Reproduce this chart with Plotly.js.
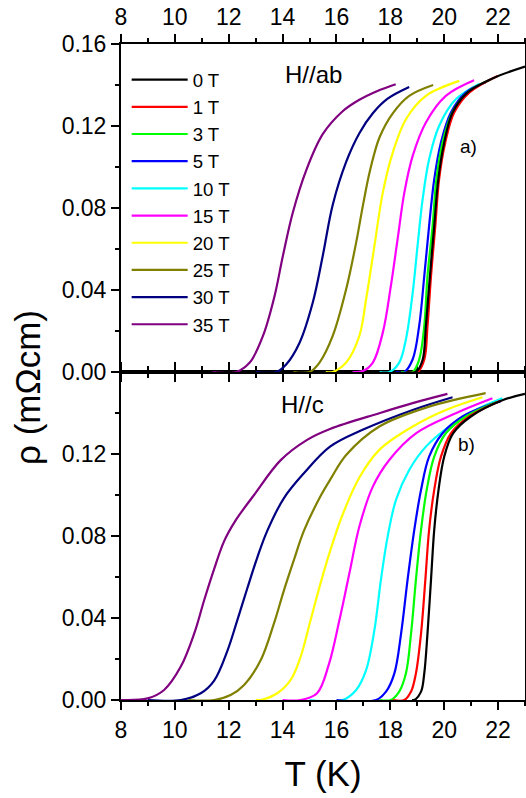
<!DOCTYPE html>
<html><head><meta charset="utf-8">
<script src="https://cdn.plot.ly/plotly-3.0.1.min.js"></script>
<style>html,body{margin:0;padding:0;background:#fff}#chart{width:526px;height:798px}</style>
</head><body><div id="chart"></div>
<script>
const fieldLabels = ['0 T','1 T','3 T','5 T','10 T','15 T','20 T','25 T','30 T','35 T'];
const lineColors = ['#000000','#ff0000','#00ff00','#0000ff','#00ffff','#ff00ff','#ffff00','#808000','#000080','#800080'];

// ---- H // ab (panel a) ----
const T_ab_0  = [18.6, 18.95, 19.2, 19.32, 19.47, 19.63, 19.78, 20.0, 20.31, 20.86, 21.79, 23.0];
const R_ab_0  = [0, 0, 0.006, 0.0224, 0.0468, 0.0713, 0.094, 0.112, 0.1266, 0.1363, 0.1432, 0.149];
const T_ab_1  = [18.6, 19.01, 19.26, 19.38, 19.51, 19.67, 19.81, 20.04, 20.37, 20.93, 21.98];
const R_ab_1  = [0, 0, 0.006, 0.0224, 0.0468, 0.0713, 0.094, 0.112, 0.1266, 0.1363, 0.1444];
const T_ab_3  = [18.4, 18.83, 19.07, 19.26, 19.38, 19.57, 19.71, 19.94, 20.3, 20.86, 21.67];
const R_ab_3  = [0, 0, 0.006, 0.0224, 0.0468, 0.0713, 0.094, 0.112, 0.1266, 0.1363, 0.1423];
const T_ab_5  = [18.2, 18.52, 18.83, 19.07, 19.26, 19.44, 19.63, 19.88, 20.25, 20.8, 21.54];
const R_ab_5  = [0, 0, 0.0062, 0.0224, 0.0468, 0.0713, 0.094, 0.112, 0.1266, 0.1363, 0.1413];
const T_ab_10 = [17.6, 17.96, 18.33, 18.58, 18.83, 19.01, 19.2, 19.44, 19.81, 20.43, 21.3];
const R_ab_10 = [0, 0, 0.0046, 0.016, 0.0387, 0.0615, 0.0843, 0.1038, 0.12, 0.133, 0.1405];
const T_ab_15 = [16.6, 16.98, 17.35, 17.72, 18.02, 18.27, 18.52, 18.83, 19.32, 20.06, 21.11];
const R_ab_15 = [0, 0.0005, 0.0046, 0.0192, 0.042, 0.0648, 0.0875, 0.1054, 0.1217, 0.1347, 0.1423];
const T_ab_20 = [15.6, 15.86, 16.36, 16.85, 17.10, 17.41, 17.72, 18.09, 18.58, 19.32, 20.56];
const R_ab_20 = [0, 0, 0.0046, 0.0176, 0.0355, 0.0615, 0.0875, 0.107, 0.1233, 0.1347, 0.142];
const T_ab_25 = [14.4, 15.0, 15.37, 15.86, 16.36, 16.73, 17.0, 17.25, 17.6, 18.09, 18.70, 19.59];
const R_ab_25 = [0, 0, 0.0046, 0.0176, 0.0404, 0.0631, 0.0825, 0.0985, 0.1145, 0.1262, 0.1347, 0.140];
const T_ab_30 = [13.0, 13.77, 14.14, 14.63, 15.12, 15.49, 15.86, 16.36, 16.85, 17.35, 17.9, 18.70];
const R_ab_30 = [0, 0, 0.0038, 0.0143, 0.0339, 0.0566, 0.0815, 0.1025, 0.1165, 0.1262, 0.1333, 0.139];
const T_ab_35 = [11.4, 12.28, 12.78, 13.27, 13.70, 14.01, 14.38, 14.88, 15.49, 16.23, 16.85, 17.5, 18.2];
const R_ab_35 = [0, 0, 0.0046, 0.0176, 0.037, 0.0566, 0.0778, 0.0985, 0.116, 0.1272, 0.1328, 0.1370, 0.1404];

// ---- H // c (panel b) ----
const T_c_0  = [18.8, 18.89, 19.14, 19.26, 19.38, 19.51, 19.63, 19.79, 20.0, 20.33, 20.99, 22.16, 23.0];
const R_c_0  = [0, 0, 0.0041, 0.013, 0.0325, 0.0586, 0.083, 0.1025, 0.1187, 0.1301, 0.1383, 0.1462, 0.1493];
const T_c_1  = [18.1, 18.52, 18.77, 18.95, 19.14, 19.3, 19.44, 19.63, 19.88, 20.25, 20.93, 22.1];
const R_c_1  = [0, 0, 0.0041, 0.013, 0.0325, 0.0586, 0.083, 0.1025, 0.1187, 0.1301, 0.1383, 0.146];
const T_c_3  = [17.6, 18.02, 18.33, 18.58, 18.77, 18.95, 19.14, 19.35, 19.63, 20.06, 20.8, 21.98];
const R_c_3  = [0, 0, 0.0041, 0.013, 0.0325, 0.0586, 0.083, 0.1025, 0.1187, 0.1301, 0.1383, 0.1455];
const T_c_5  = [16.0, 17.47, 17.84, 18.15, 18.4, 18.64, 18.89, 19.14, 19.44, 19.94, 20.68, 21.67, 22.1];
const R_c_5  = [0, 0, 0.0041, 0.013, 0.0325, 0.0586, 0.083, 0.1025, 0.1187, 0.1301, 0.1383, 0.144, 0.1458];
const T_c_10 = [15.0, 16.23, 16.73, 17.1, 17.41, 17.65, 17.9, 18.21, 18.7, 19.32, 20.18, 21.17, 22.16];
const R_c_10 = [0, 0, 0.0049, 0.0146, 0.0342, 0.0586, 0.0797, 0.0976, 0.1122, 0.1236, 0.1334, 0.1415, 0.1472];
const T_c_15 = [14.0, 14.67, 15.28, 15.72, 16.11, 16.48, 16.85, 17.35, 17.96, 18.95, 20.43, 21.79];
const R_c_15 = [0, 0, 0.0033, 0.0175, 0.039, 0.0618, 0.0846, 0.1041, 0.1171, 0.1301, 0.1399, 0.1472];
const T_c_20 = [13.0, 13.19, 13.80, 14.3, 14.67, 15.04, 15.41, 15.76, 16.23, 16.85, 17.59, 18.83, 20.06, 21.42];
const R_c_20 = [0, 0, 0.0033, 0.0098, 0.0211, 0.039, 0.057, 0.0725, 0.0905, 0.1085, 0.122, 0.1334, 0.1415, 0.1477];
const T_c_25 = [10.5, 11.46, 12.07, 12.57, 13.19, 13.68, 14.05, 14.42, 14.79, 15.41, 15.8, 16.36, 17.59, 19.44, 21.54];
const R_c_25 = [0, 0, 0.0024, 0.0073, 0.0195, 0.0374, 0.0535, 0.0683, 0.0825, 0.0995, 0.1082, 0.1195, 0.1334, 0.1431, 0.1497];
const T_c_30 = [9.0, 10.22, 10.96, 11.46, 11.95, 12.32, 12.69, 13.06, 13.43, 14.05, 14.79, 15.76, 16.97, 18.83, 20.31];
const R_c_30 = [0, 0, 0.0033, 0.0095, 0.024, 0.039, 0.0545, 0.0695, 0.0825, 0.0985, 0.1106, 0.1236, 0.1318, 0.1415, 0.1477];
const T_c_35 = [8.0, 8.99, 9.6, 10.22, 10.72, 11.09, 11.46, 11.83, 12.25, 12.94, 13.93, 14.91, 15.76, 17.59, 18.83, 20.12];
const R_c_35 = [0, 0.0008, 0.0049, 0.0163, 0.0325, 0.0488, 0.064, 0.0775, 0.0875, 0.1, 0.117, 0.1269, 0.1322, 0.1399, 0.1448, 0.1493];

const abT = [T_ab_0,T_ab_1,T_ab_3,T_ab_5,T_ab_10,T_ab_15,T_ab_20,T_ab_25,T_ab_30,T_ab_35];
const abR = [R_ab_0,R_ab_1,R_ab_3,R_ab_5,R_ab_10,R_ab_15,R_ab_20,R_ab_25,R_ab_30,R_ab_35];
const cT  = [T_c_0,T_c_1,T_c_3,T_c_5,T_c_10,T_c_15,T_c_20,T_c_25,T_c_30,T_c_35];
const cR  = [R_c_0,R_c_1,R_c_3,R_c_5,R_c_10,R_c_15,R_c_20,R_c_25,R_c_30,R_c_35];

const traces = [];
// draw high fields first so 0 T ends on top
for (let i = fieldLabels.length - 1; i >= 0; i--) {
  traces.push({x: abT[i], y: abR[i], xaxis: 'x2', yaxis: 'y2', type: 'scatter', mode: 'lines',
    name: fieldLabels[i], legendgroup: fieldLabels[i], showlegend: true,
    line: {color: lineColors[i], width: 2.2, shape: 'spline', smoothing: 1.0}});
}
for (let i = fieldLabels.length - 1; i >= 0; i--) {
  traces.push({x: cT[i], y: cR[i], xaxis: 'x', yaxis: 'y', type: 'scatter', mode: 'lines',
    name: fieldLabels[i], legendgroup: fieldLabels[i], showlegend: false,
    line: {color: lineColors[i], width: 2.2, shape: 'spline', smoothing: 1.0}});
}

const FONT = 'Liberation Sans, Arial, sans-serif';
const axCommon = {showline: true, linewidth: 2, linecolor: '#000', mirror: 'ticks', ticks: 'outside',
  ticklen: 8, tickwidth: 2, tickcolor: '#000', showgrid: false, zeroline: false,
  tickfont: {family: FONT, size: 23, color: '#000'}};

const layout = {
  width: 526, height: 798,
  margin: {l: 121, r: 1, t: 44, b: 98},
  paper_bgcolor: '#fff', plot_bgcolor: '#fff',
  font: {family: FONT, color: '#000'},
  showlegend: true,
  legend: {x: 0.014, y: 0.974, xanchor: 'left', yanchor: 'top', traceorder: 'reversed',
    bgcolor: 'rgba(0,0,0,0)', borderwidth: 0, itemwidth: 56,
    font: {family: FONT, size: 18.6, color: '#000'}},
  xaxis: Object.assign({}, axCommon, {anchor: 'y', domain: [0, 1], range: [8, 23], tick0: 8, dtick: 2,
    minor: {dtick: 1, tick0: 8, ticks: 'outside', ticklen: 4, tickwidth: 2, tickcolor: '#000'},
    title: {text: 'T (K)', font: {family: FONT, size: 35, color: '#000'}, standoff: 20}}),
  xaxis2: Object.assign({}, axCommon, {anchor: 'y2', side: 'top', domain: [0, 1], range: [8, 23], tick0: 8, dtick: 2,
    minor: {dtick: 1, tick0: 8, ticks: 'outside', ticklen: 4, tickwidth: 2, tickcolor: '#000'}}),
  yaxis: Object.assign({}, axCommon, {anchor: 'x', domain: [0, 0.5], range: [0, 0.16],
    tickmode: 'array', tickvals: [0, 0.04, 0.08, 0.12], tickformat: '.2f',
    minor: {tickmode: 'array', tickvals: [0.02, 0.06, 0.10, 0.14], ticks: 'outside', ticklen: 4, tickwidth: 2, tickcolor: '#000'}}),
  yaxis2: Object.assign({}, axCommon, {anchor: 'x2', domain: [0.5, 1], range: [0, 0.16],
    tickmode: 'array', tickvals: [0, 0.04, 0.08, 0.12, 0.16], tickformat: '.2f',
    minor: {tickmode: 'array', tickvals: [0.02, 0.06, 0.10, 0.14], ticks: 'outside', ticklen: 4, tickwidth: 2, tickcolor: '#000'}}),
  annotations: [
    {text: 'ρ (mΩcm)', xref: 'paper', yref: 'paper', x: -0.233, y: 0.477, xanchor: 'center', yanchor: 'middle',
      textangle: -90, showarrow: false, font: {family: FONT, size: 35, color: '#000'}},
    {text: 'H//ab', xref: 'x2', yref: 'y2', x: 14.0, y: 0.1453, xanchor: 'left', yanchor: 'middle', showarrow: false,
      font: {family: FONT, size: 24, color: '#000'}},
    {text: 'a)', xref: 'x2', yref: 'y2', x: 20.52, y: 0.110, xanchor: 'left', yanchor: 'middle', showarrow: false,
      font: {family: FONT, size: 19, color: '#000'}},
    {text: 'H//c', xref: 'x', yref: 'y', x: 13.85, y: 0.144, xanchor: 'left', yanchor: 'middle', showarrow: false,
      font: {family: FONT, size: 24, color: '#000'}},
    {text: 'b)', xref: 'x', yref: 'y', x: 20.45, y: 0.1245, xanchor: 'left', yanchor: 'middle', showarrow: false,
      font: {family: FONT, size: 19, color: '#000'}}
  ]
};

Plotly.newPlot('chart', traces, layout, {staticPlot: true, displayModeBar: false});
</script>
</body></html>
